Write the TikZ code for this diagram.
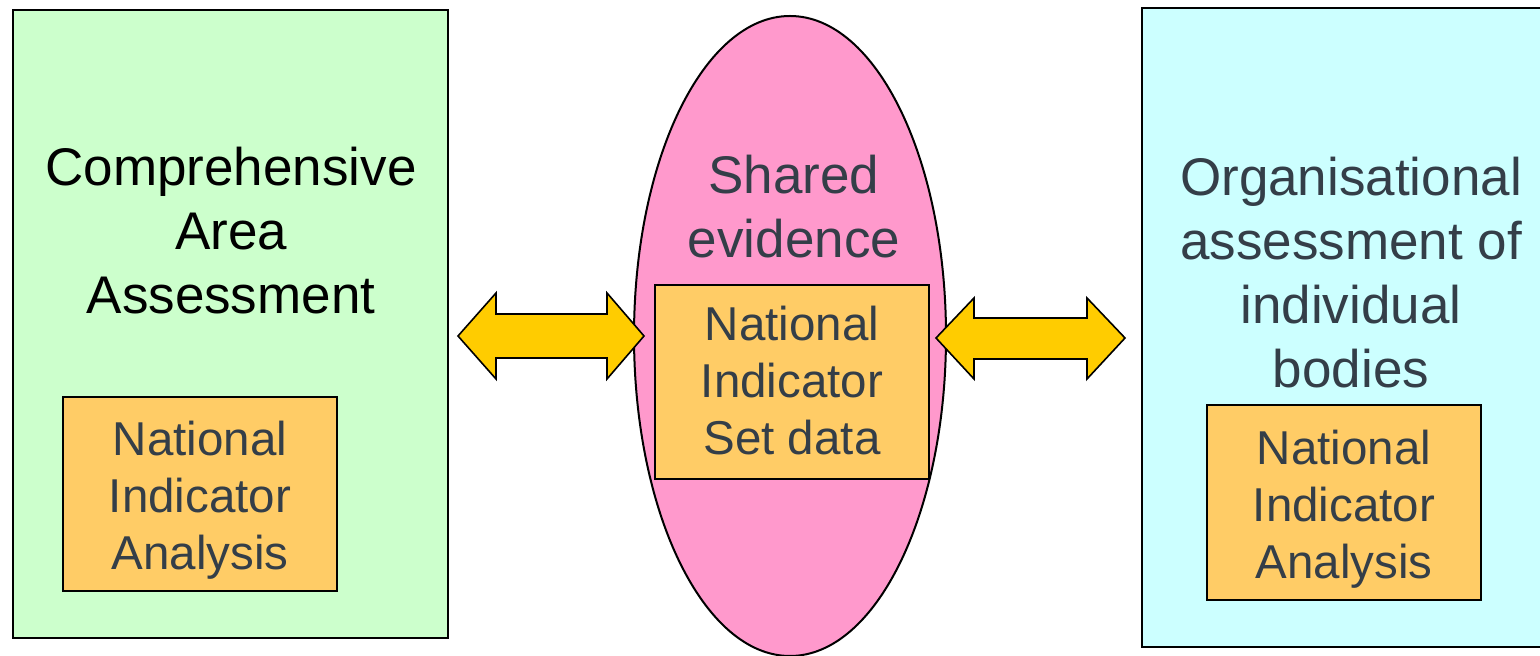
\documentclass[tikz,border=0pt]{standalone}
\usepackage{fontspec}
\setmainfont{Liberation Sans}
\usetikzlibrary{positioning, shapes.geometric}
\definecolor{caagreen}{HTML}{CCFFCC}
\definecolor{sharedpink}{HTML}{FF99CC}
\definecolor{orgcyan}{HTML}{CCFFFF}
\definecolor{nibox}{HTML}{FFCC66}
\definecolor{arrowyellow}{HTML}{FFCC00}
\definecolor{slatetext}{RGB}{52,62,72}

\begin{document}
\begin{tikzpicture}[x=0.5pt, y=-0.5pt,
    panel/.style={draw=black, line width=1pt, inner sep=0pt},
    nibox/.style={draw=black, line width=1pt, fill=nibox, inner sep=0pt,
        minimum width=137pt, minimum height=97pt},
    bigtext/.style={align=center, inner sep=0pt, text=slatetext,
        font=\fontsize{26.5}{32}\selectfont},
    smalltext/.style={align=center, inner sep=0pt, text=slatetext,
        font=\fontsize{23.75}{28.5}\selectfont},
    dblarrow/.style={draw=black, line width=0.8pt, fill=arrowyellow, line join=miter}]
    \useasboundingbox (0,0) rectangle (1540,656);
    % the three areas
    \node[panel, fill=caagreen, minimum width=217.5pt, minimum height=314pt] (caa) at (230.5,324) {};
    \node[panel, ellipse, fill=sharedpink, minimum width=156pt, minimum height=320pt] (shared) at (790,336) {};
    \node[panel, fill=orgcyan, minimum width=200pt, minimum height=319.5pt] (org) at (1342,327.5) {};
    % inner boxes
    \node[nibox] (caani) at (200,494) {};
    \node[nibox] (sharedni) at (792,382) {};
    \node[nibox, minimum height=97.5pt] (orgni) at (1344,502.5) {};
    % labels
    \node[bigtext, text=black] (caalabel) at (231,231) {Comprehensive\\Area\\Assessment};
    \node[bigtext] (sharedlabel) at (794,207) {Shared\\evidence};
    \node[bigtext] (orglabel) at (1351,273) {Organisational\\assessment of\\individual\\bodies};
    \node[smalltext] (caanitext) at (200,500) {National\\Indicator\\Analysis};
    \node[smalltext] (sharednitext) at (792,381) {National\\Indicator\\Set data};
    \node[smalltext] (orgnitext) at (1344,509) {National\\Indicator\\Analysis};
    % two-way arrows
    \draw[dblarrow] (458,336) -- (496,293) -- (496,314) -- (607,314) -- (607,293)
        -- (644,336) -- (607,379) -- (607,358) -- (496,358) -- (496,379) -- cycle;
    \draw[dblarrow] (936,338) -- (974,298) -- (974,318) -- (1087,318) -- (1087,298)
        -- (1125,338) -- (1087,379) -- (1087,359) -- (974,359) -- (974,379) -- cycle;
\end{tikzpicture}
\end{document}
